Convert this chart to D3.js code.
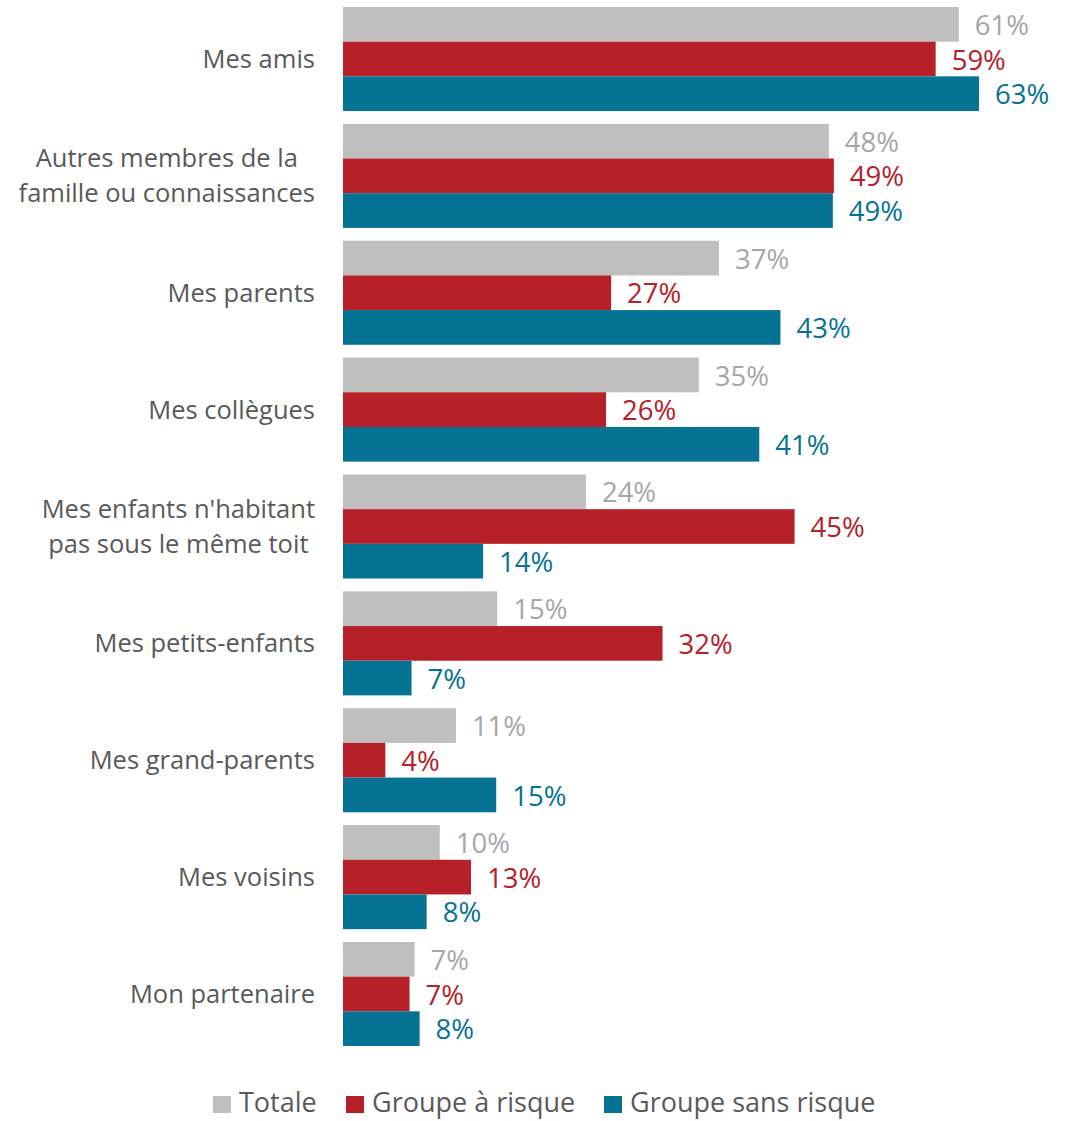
<!DOCTYPE html>
<html>
<head>
<meta charset="utf-8">
<script src="https://cdn.jsdelivr.net/npm/d3@7"></script>
<style>
  html, body { margin: 0; padding: 0; background: #fff; }
  svg { display: block; }
</style>
</head>
<body>
<svg id="chart" width="1066" height="1121"></svg>
<script>
// Categories (top to bottom), each label split into its display lines
const categories = [
  "Mes amis",
  "Autres membres de la famille ou connaissances",
  "Mes parents",
  "Mes collègues",
  "Mes enfants n'habitant pas sous le même toit",
  "Mes petits-enfants",
  "Mes grand-parents",
  "Mes voisins",
  "Mon partenaire"
];
const categoryLines = [
  ["Mes amis"],
  ["Autres membres de la", "famille ou connaissances"],
  ["Mes parents"],
  ["Mes collègues"],
  ["Mes enfants n'habitant", "pas sous le même toit"],
  ["Mes petits-enfants"],
  ["Mes grand-parents"],
  ["Mes voisins"],
  ["Mon partenaire"]
];

// Series names
const seriesNames = ["Totale", "Groupe à risque", "Groupe sans risque"];

// Shares in percent, one array per series, in category order
const totale         = [61.1, 48.2, 37.3, 35.3, 24.1, 15.3, 11.2,  9.6, 7.1];
const groupeRisque   = [58.8, 48.7, 26.6, 26.1, 44.8, 31.7,  4.2, 12.7, 6.6];
const groupeSansRisq = [63.1, 48.6, 43.4, 41.3, 13.9,  6.8, 15.2,  8.3, 7.6];

const seriesValues = [totale, groupeRisque, groupeSansRisq];
const barColors   = ["#BFBFBF", "#B52029", "#067294"];
const labelColors = ["#A6A6A6", "#B52029", "#067294"];

const FONT = "'Open Sans', 'Noto Sans', sans-serif";
const svg = d3.select("#chart");

const x0 = 343;
const x = d3.scaleLinear().domain([0, 63.1]).range([x0, 979]);

const yGroup = d3.scaleBand()
  .domain(categories)
  .range([7, 1046])
  .paddingInner(0.11)
  .paddingOuter(0);

const ySeries = d3.scaleBand()
  .domain(seriesNames)
  .range([0, yGroup.bandwidth()])
  .padding(0);

const fmt = v => d3.format(".0f")(v) + "%";

const rows = categories.map((c, i) => ({
  category: c,
  lines: categoryLines[i],
  bars: seriesNames.map((s, j) => ({ series: s, idx: j, value: seriesValues[j][i] }))
}));

const group = svg.append("g").selectAll("g.group")
  .data(rows)
  .join("g")
  .attr("class", "group")
  .attr("transform", d => `translate(0,${yGroup(d.category)})`);

// Bars
group.selectAll("rect")
  .data(d => d.bars)
  .join("rect")
  .attr("x", x0)
  .attr("y", d => ySeries(d.series))
  .attr("width", d => x(d.value) - x0)
  .attr("height", ySeries.bandwidth())
  .attr("fill", d => barColors[d.idx]);

// Value labels
group.selectAll("text.value")
  .data(d => d.bars)
  .join("text")
  .attr("class", "value")
  .attr("x", d => x(d.value) + 16)
  .attr("y", d => ySeries(d.series) + ySeries.bandwidth() / 2 + 1)
  .attr("dy", "0.35em")
  .attr("font-family", FONT)
  .attr("font-size", 27.5)
  .attr("fill", d => labelColors[d.idx])
  .text(d => fmt(d.value));

// Category labels: block right-aligned to the axis, lines centred within the block
const lineH = 35;
const labelRight = x0 - 28;
group.append("text")
  .attr("class", "category")
  .attr("text-anchor", "middle")
  .attr("font-family", FONT)
  .attr("font-size", 25.5)
  .attr("fill", "#595959")
  .each(function(d) {
    const t = d3.select(this);
    const n = d.lines.length;
    const cy = yGroup.bandwidth() / 2;
    const spans = d.lines.map((ln, k) =>
      t.append("tspan")
        .attr("y", cy + (k - (n - 1) / 2) * lineH)
        .attr("dy", "0.35em")
        .text(ln));
    const maxW = d3.max(spans, s => s.node().getComputedTextLength());
    spans.forEach(s => s.attr("x", labelRight - maxW / 2));
  });

// Legend
const legendItems = [
  { name: seriesNames[0], color: barColors[0], x: 213 },
  { name: seriesNames[1], color: barColors[1], x: 346 },
  { name: seriesNames[2], color: barColors[2], x: 604 }
];
const legend = svg.append("g").attr("class", "legend");
const baseline = 1112;
const li = legend.selectAll("g").data(legendItems).join("g")
  .attr("transform", d => `translate(${d.x},${baseline})`);
li.append("rect")
  .attr("x", 0).attr("y", -16)
  .attr("width", 18).attr("height", 17)
  .attr("fill", d => d.color);
li.append("text")
  .attr("x", 26)
  .attr("y", 0)
  .attr("font-family", FONT)
  .attr("font-size", 27)
  .attr("fill", "#595959")
  .text(d => d.name);
</script>
</body>
</html>
